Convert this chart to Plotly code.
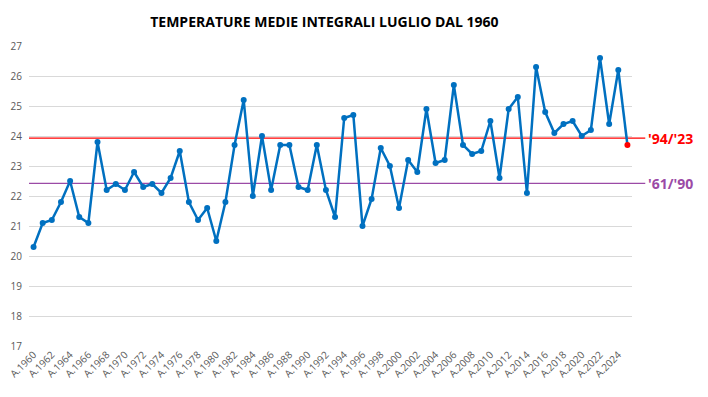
import plotly.graph_objects as go

years = list(range(1960, 2026))
temps = [20.3, 21.1, 21.2, 21.8, 22.5, 21.3, 21.1, 23.8, 22.2, 22.4,
         22.2, 22.8, 22.3, 22.4, 22.1, 22.6, 23.5, 21.8, 21.2, 21.6,
         20.5, 21.8, 23.7, 25.2, 22.0, 24.0, 22.2, 23.7, 23.7, 22.3,
         22.2, 23.7, 22.2, 21.3, 24.6, 24.7, 21.0, 21.9, 23.6, 23.0,
         21.6, 23.2, 22.8, 24.9, 23.1, 23.2, 25.7, 23.7, 23.4, 23.5,
         24.5, 22.6, 24.9, 25.3, 22.1, 26.3, 24.8, 24.1, 24.4, 24.5,
         24.0, 24.2, 26.6, 24.4, 26.2, 23.7]
tick_years = list(range(1960, 2025, 2))
tick_labels = ["A." + str(y) for y in tick_years]
ref_labels = ["'94/'23", "'61/'90"]
ref_values = [23.93, 22.42]
ref_colors = ["#FF0000", "#9B4AA6"]

fig = go.Figure()
fig.add_trace(go.Scatter(
    x=years[:-1], y=temps[:-1], mode="lines+markers",
    line=dict(color="#0070C0", width=2.5),
    marker=dict(color="#0070C0", size=6),
    showlegend=False, hoverinfo="x+y"))
fig.add_trace(go.Scatter(
    x=years[-2:], y=temps[-2:], mode="lines",
    line=dict(color="#0070C0", width=2.5),
    showlegend=False, hoverinfo="skip"))
fig.add_trace(go.Scatter(
    x=years[-1:], y=temps[-1:], mode="markers",
    marker=dict(color="#FF0000", size=6),
    showlegend=False))

for lab, val, col in zip(ref_labels, ref_values, ref_colors):
    fig.add_shape(type="line", xref="paper", yref="y", x0=0, x1=1.022,
                  y0=val, y1=val, line=dict(color=col, width=1.2), layer="below")
    fig.add_annotation(xref="paper", yref="y", x=1.024, y=val, text="<b>" + lab + "</b>",
                       showarrow=False, xanchor="left", yanchor="middle",
                       font=dict(family="Open Sans, sans-serif", size=14, color=col))

fig.update_layout(
    width=700, height=389,
    margin=dict(l=21, r=76, t=38, b=51),
    paper_bgcolor="white", plot_bgcolor="white",
    title=dict(text="<b>TEMPERATURE MEDIE INTEGRALI LUGLIO DAL 1960</b>",
               x=0.452, xanchor="center", y=0.964, yanchor="middle",
               font=dict(family="Open Sans, sans-serif", size=14, color="#000000")),
    xaxis=dict(range=[1959.5, 2025.5], tickmode="array", tickvals=tick_years,
               ticktext=tick_labels, tickangle=-45, showgrid=False, zeroline=False,
               showline=False, ticks="", automargin=False, ticklabeloverflow="allow",
               tickfont=dict(family="Open Sans, sans-serif", size=10, color="#595959")),
    yaxis=dict(range=[17, 27], dtick=1, showgrid=True, gridcolor="#D9D9D9", gridwidth=1,
               zeroline=False, showline=False, ticks="", automargin=False,
               ticklabelstandoff=6,
               tickfont=dict(family="Open Sans, sans-serif", size=10, color="#595959")),
)

fig.write_html("out.html")
